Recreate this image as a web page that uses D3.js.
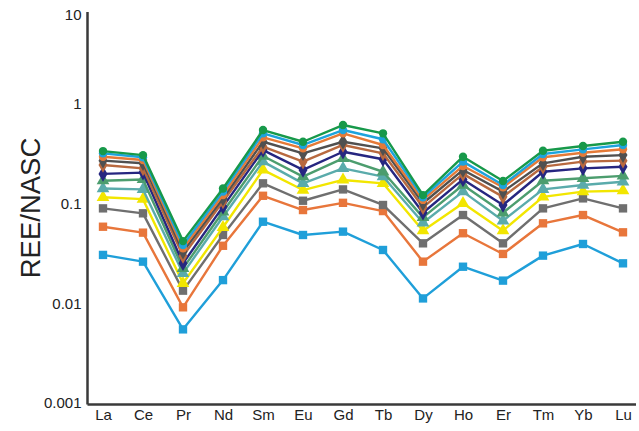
<!DOCTYPE html>
<html>
<head>
<meta charset="utf-8">
<script src="https://cdn.jsdelivr.net/npm/d3@7"></script>
<style>
  body { margin: 0; background: #fff; }
  svg text { font-family: "Liberation Sans", Arial, sans-serif; fill: #222; }
</style>
</head>
<body>
<div id="chart"></div>
<script>
// REE elements (x axis)
const elements = ["La", "Ce", "Pr", "Nd", "Sm", "Eu", "Gd", "Tb", "Dy", "Ho", "Er", "Tm", "Yb", "Lu"];
const yTicks = [0.001, 0.01, 0.1, 1, 10];

// series, lowest to highest
const blueSq   = [0.0306, 0.0262, 0.00548, 0.0171, 0.0659, 0.0485, 0.0524, 0.0343, 0.0112, 0.0233, 0.0169, 0.0301, 0.0394, 0.0252];
const orangeSq = [0.0587, 0.0512, 0.00912, 0.0378, 0.120, 0.0863, 0.102, 0.0843, 0.0262, 0.0505, 0.0313, 0.0635, 0.0769, 0.0516];
const graySq   = [0.0897, 0.0800, 0.0134, 0.0485, 0.160, 0.107, 0.139, 0.0970, 0.0400, 0.0769, 0.0400, 0.0897, 0.113, 0.0897];
const yellowTr = [0.116, 0.111, 0.0159, 0.0579, 0.218, 0.137, 0.173, 0.160, 0.0536, 0.101, 0.0536, 0.117, 0.132, 0.135];
const tealTr   = [0.142, 0.139, 0.0200, 0.0740, 0.264, 0.160, 0.226, 0.187, 0.0644, 0.132, 0.0674, 0.139, 0.154, 0.166];
const greenTr  = [0.170, 0.175, 0.0224, 0.0830, 0.301, 0.187, 0.285, 0.209, 0.0729, 0.154, 0.0811, 0.170, 0.180, 0.190];
const navyDi   = [0.199, 0.205, 0.0252, 0.0933, 0.345, 0.218, 0.332, 0.279, 0.0811, 0.175, 0.0970, 0.209, 0.226, 0.235];
const brownDi  = [0.244, 0.226, 0.0299, 0.105, 0.373, 0.264, 0.388, 0.320, 0.0919, 0.199, 0.117, 0.235, 0.264, 0.270];
const dgrayDi  = [0.270, 0.254, 0.0330, 0.113, 0.418, 0.320, 0.418, 0.359, 0.101, 0.218, 0.132, 0.254, 0.296, 0.307];
const orangeCi = [0.296, 0.274, 0.0356, 0.122, 0.463, 0.359, 0.508, 0.388, 0.109, 0.239, 0.146, 0.292, 0.324, 0.351];
const blueCi   = [0.320, 0.292, 0.0385, 0.132, 0.508, 0.388, 0.548, 0.443, 0.116, 0.264, 0.154, 0.315, 0.351, 0.388];
const greenCi  = [0.337, 0.307, 0.0421, 0.142, 0.548, 0.418, 0.615, 0.508, 0.122, 0.296, 0.169, 0.340, 0.379, 0.418];

const series = [
  {values: blueSq,   color: "#1f9fd9", shape: d3.symbolSquare},
  {values: orangeSq, color: "#e8763b", shape: d3.symbolSquare},
  {values: graySq,   color: "#6f6f6f", shape: d3.symbolSquare},
  {values: yellowTr, color: "#f2e600", shape: d3.symbolTriangle},
  {values: tealTr,   color: "#5aabab", shape: d3.symbolTriangle},
  {values: greenTr,  color: "#4c9d6e", shape: d3.symbolTriangle},
  {values: navyDi,   color: "#262680", shape: d3.symbolDiamond},
  {values: brownDi,  color: "#b8693f", shape: d3.symbolDiamond},
  {values: dgrayDi,  color: "#505050", shape: d3.symbolDiamond},
  {values: orangeCi, color: "#e47a38", shape: d3.symbolCircle},
  {values: blueCi,   color: "#1da3dd", shape: d3.symbolCircle},
  {values: greenCi,  color: "#17994a", shape: d3.symbolCircle}
];

const width = 639, height = 431;

const svg = d3.select("#chart").append("svg")
  .attr("width", width)
  .attr("height", height);

const x = d3.scalePoint()
  .domain(elements)
  .range([103, 623]);

// decade spacing in the original is slightly uneven at the top
const y = d3.scaleLog()
  .domain([0.001, 1, 10])
  .range([403, 104, 15]);

// y axis
const yAxis = svg.append("g")
  .attr("transform", "translate(87.5,0)")
  .call(d3.axisLeft(y).tickValues(yTicks).tickFormat(d3.format("~g")).tickSize(0).tickPadding(6));
yAxis.select(".domain").attr("stroke", "#3a3a3a").attr("stroke-width", 2.5)
  .attr("d", "M0,12V404.5");
yAxis.selectAll("text").style("font-size", "15px").attr("fill", "#222");

// x axis
const xAxis = svg.append("g")
  .attr("transform", "translate(0,404.5)")
  .call(d3.axisBottom(x).tickSize(0).tickPadding(5));
xAxis.select(".domain").attr("stroke", "#3a3a3a").attr("stroke-width", 2.5)
  .attr("d", "M87.5,0H636");
xAxis.selectAll("text").style("font-size", "15px").attr("fill", "#222");

// axis title
svg.append("text")
  .attr("transform", "translate(40,208) rotate(-90)")
  .attr("text-anchor", "middle")
  .style("font-size", "27.5px")
  .text("REE/NASC");

// lines + markers
const line = d3.line()
  .x((d, i) => x(elements[i]))
  .y(d => y(d));

const groups = svg.selectAll(".series")
  .data(series)
  .enter().append("g")
  .attr("class", "series");

groups.append("path")
  .attr("d", d => line(d.values))
  .attr("fill", "none")
  .attr("stroke", d => d.color)
  .attr("stroke-width", 2.4)
  .attr("stroke-linejoin", "round");

groups.each(function(s) {
  d3.select(this).selectAll("path.mark")
    .data(s.values)
    .enter().append("path")
    .attr("class", "mark")
    .attr("transform", (d, i) => `translate(${x(elements[i])},${y(d)})`)
    .attr("d", d3.symbol().type(s.shape).size(s.shape === d3.symbolCircle ? 55 : 70))
    .attr("fill", s.color);
});
</script>
</body>
</html>
